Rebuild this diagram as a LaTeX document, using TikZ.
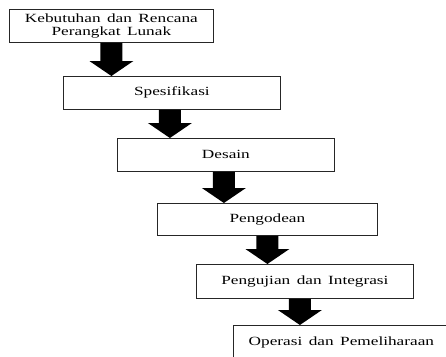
\documentclass[tikz,border=0pt]{standalone}
\usepackage{fontspec}
\setmainfont{Liberation Serif}[FakeStretch=1.38, WordSpace=1.5]
\usetikzlibrary{calc}
\tikzset{
  stepbox/.style={draw=black!85, line width=0.8pt, rectangle, anchor=north west,
    inner sep=0pt, font=\fontsize{12.5}{13}\selectfont, align=center},
  arrowfill/.style={fill=black}
}
\newcommand{\bigdownarrow}[3]{%
  \fill[arrowfill] let \p1=(#1.south), \p2=(#2.north) in
    (\x1+#3pt-11pt,\y1) -- (\x1+#3pt+11pt,\y1) -- (\x1+#3pt+11pt,\y2+15pt)
    -- (\x1+#3pt+22pt,\y2+15pt) -- (\x1+#3pt,\y2) -- (\x1+#3pt-22pt,\y2+15pt)
    -- (\x1+#3pt-11pt,\y2+15pt) -- cycle;}
\begin{document}
\begin{tikzpicture}[x=1pt,y=-1pt]
\useasboundingbox (0,0) rectangle (446,356);
\clip (0,0) rectangle (446,356);
\node[stepbox, minimum width=204pt, minimum height=33pt] (b1) at (9,9)
  {Kebutuhan dan Rencana\\Perangkat Lunak};
\node[stepbox, minimum width=217pt, minimum height=33pt] (b2) at (63,76) {Spesifikasi};
\node[stepbox, minimum width=217pt, minimum height=33pt] (b3) at (117,138) {Desain};
\node[stepbox, minimum width=220pt, minimum height=32pt] (b4) at (157,203) {Pengodean};
\node[stepbox, minimum width=217pt, minimum height=34pt] (b5) at (196,264) {Pengujian dan Integrasi};
\node[stepbox, minimum width=216pt, minimum height=34pt] (b6) at (233,325) {Operasi dan Pemeliharaan};
\bigdownarrow{b1}{b2}{0}
\bigdownarrow{b2}{b3}{-2}
\bigdownarrow{b3}{b4}{-2}
\bigdownarrow{b4}{b5}{0}
\bigdownarrow{b5}{b6}{-5}
\end{tikzpicture}
\end{document}
